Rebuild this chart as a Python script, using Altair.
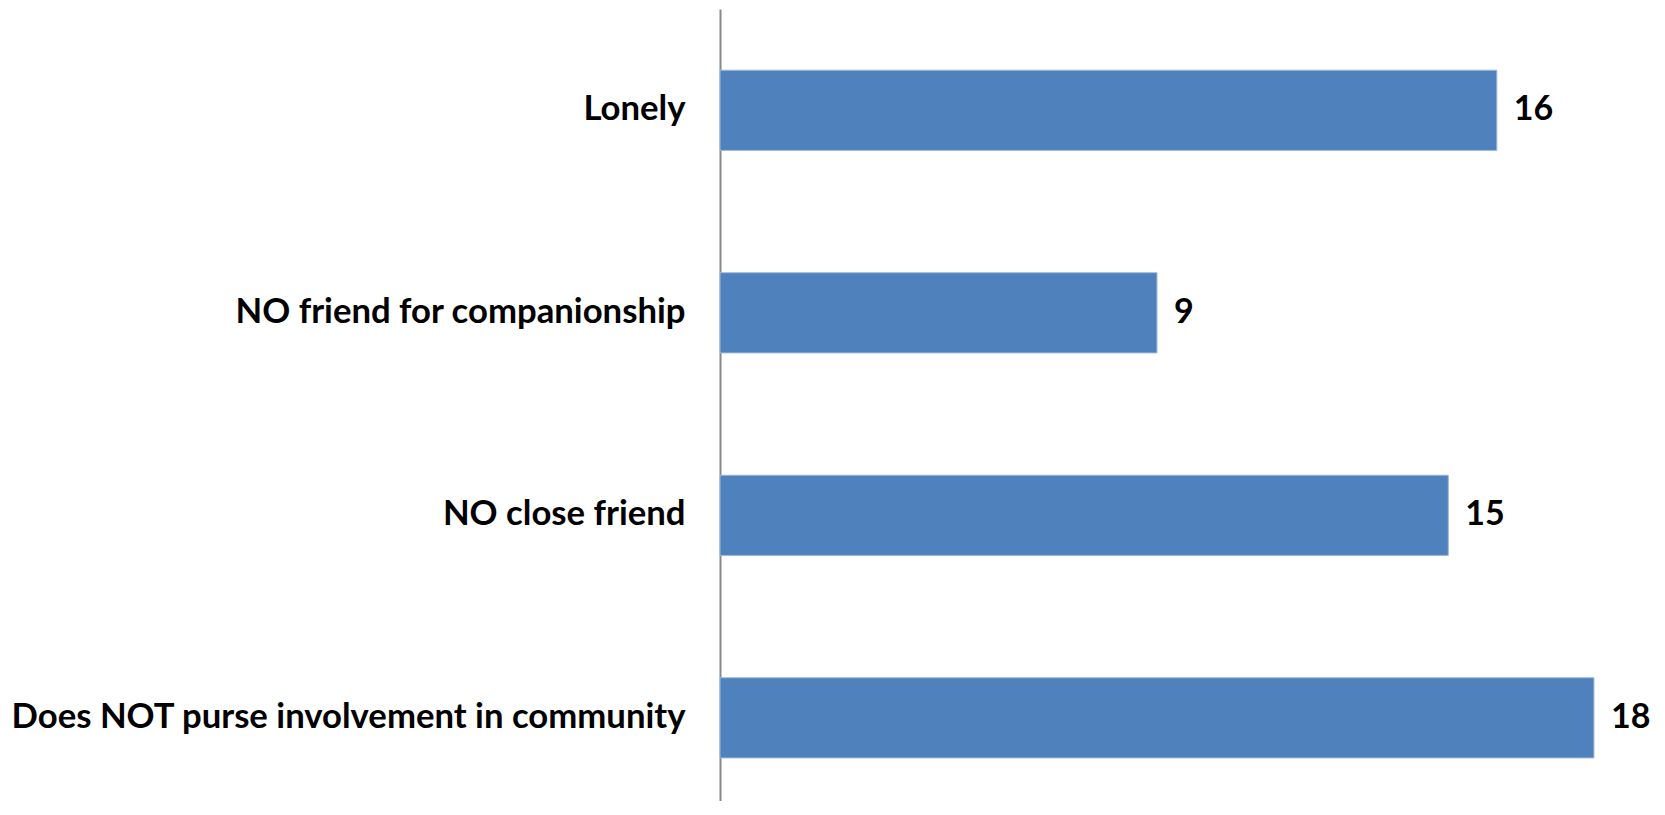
import altair as alt
import pandas as pd

categories = ["Lonely", "NO friend for companionship", "NO close friend",
              "Does NOT purse involvement in community"]
values = [16, 9, 15, 18]

df = pd.DataFrame({"category": categories, "value": values})

FONT = "Lato"

y_enc = alt.Y("category:N", sort=categories, title=None,
              scale=alt.Scale(paddingInner=0.604, paddingOuter=0.2574, align=0.587),
              axis=alt.Axis(labelFont=FONT, labelFontSize=34.7, labelFontWeight="bold",
                            labelColor="#000000", labelPadding=35, ticks=False,
                            domainColor="#888888", domainWidth=2, labelLimit=0,
                            labelExpr="(datum.label == 'Lonely' || datum.label == 'NO close friend') ? datum.label + '\u00a0' : datum.label"))

x_enc = alt.X("value:Q", title=None, scale=alt.Scale(domain=[0, 19], nice=False),
              axis=None)

bars = alt.Chart(df).mark_bar(color="#4F81BD", stroke="#9DB9DC", strokeWidth=1).encode(
    x=x_enc, y=y_enc)

labels = alt.Chart(df).mark_text(align="left", baseline="middle", dx=17,
                                 font=FONT, fontSize=34, fontWeight="bold",
                                 color="#000000").encode(
    x=alt.X("value:Q", scale=alt.Scale(domain=[0, 19], nice=False), axis=None),
    y=alt.Y("category:N", sort=categories),
    text="value:Q")

chart = (bars + labels).properties(
    width=922.5, height=792,
    padding={"left": 712, "top": 1, "right": 10, "bottom": 0},
    autosize=alt.AutoSizeParams(type="none"),
).configure_view(stroke=None).configure_axis(grid=False)

chart.save("out.html", embed_options={"renderer": "svg", "actions": False})
